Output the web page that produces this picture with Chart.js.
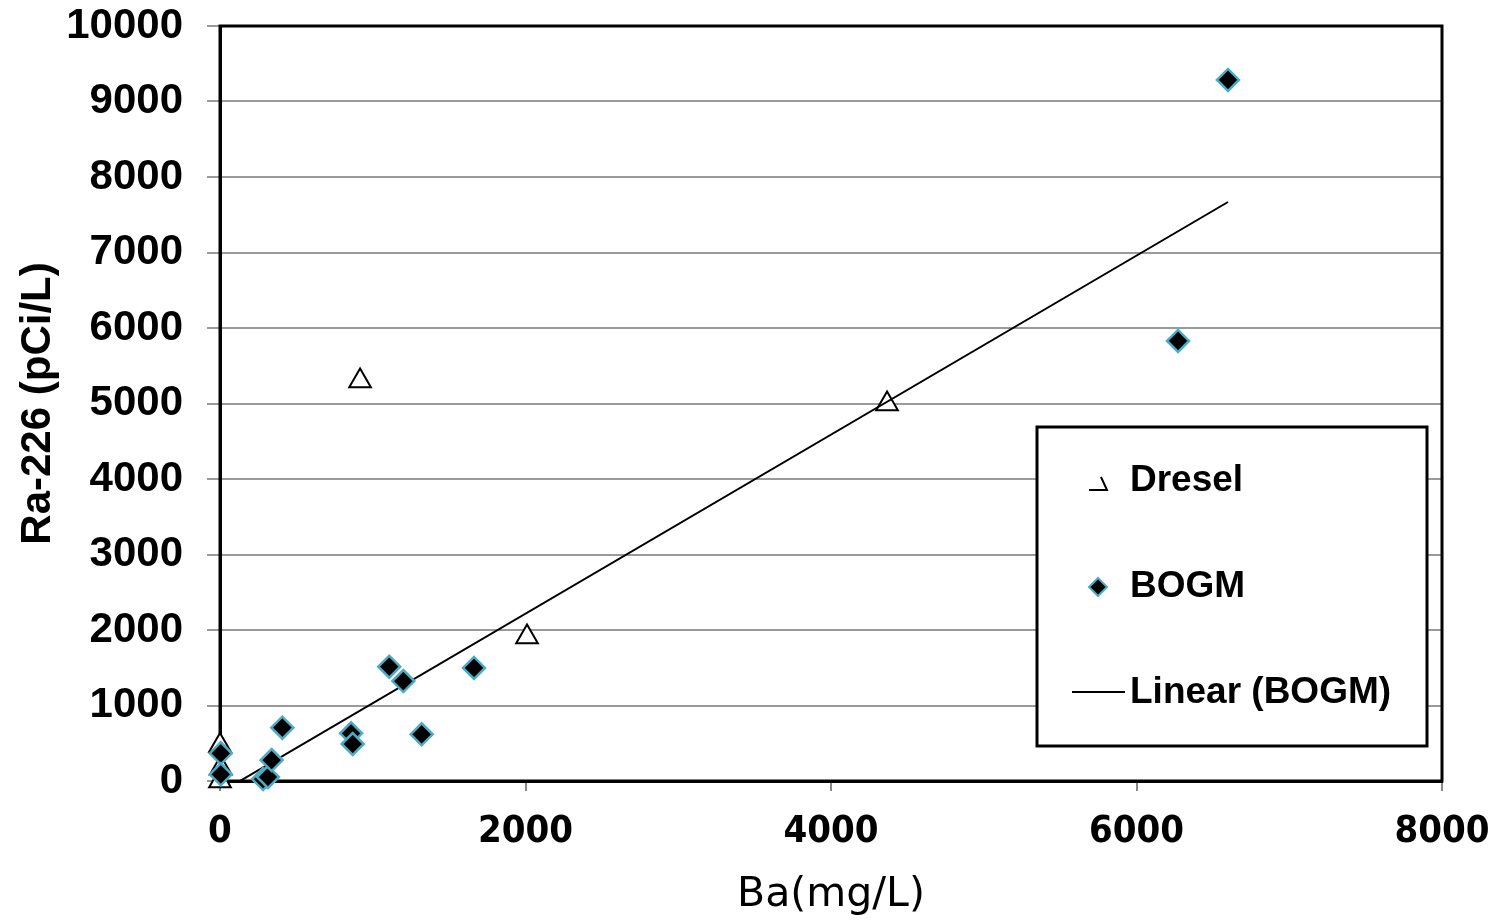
<!DOCTYPE html>
<html>
<head>
<meta charset="utf-8">
<script src="https://cdn.jsdelivr.net/npm/chart.js@4"></script>
<style>
  html, body { margin: 0; padding: 0; background: #fff; }
  #wrap { position: relative; width: 1501px; height: 920px; }
</style>
</head>
<body>
<div id="wrap"><canvas id="scatter"></canvas></div>
<script>
// values
const dreselBa = [0, 5, 0, 917, 2010, 4367];
const dreselRa = [470, 170, 0, 5298, 1907, 4993];

const bogmBa = [5, 5, 282, 314, 338, 408, 858, 869, 1108, 1200, 1320, 1663, 6272, 6599];
const bogmRa = [367, 89, 26, 53, 278, 706, 632, 490, 1514, 1324, 618, 1497, 5828, 9285];

// trendline ends (Excel linear fit over BOGM x range)
const trendBa = [5, 6599];
const trendRa = [-149, 7669];

const xTicks = [0, 2000, 4000, 6000, 8000];
const yTicks = [0, 1000, 2000, 3000, 4000, 5000, 6000, 7000, 8000, 9000, 10000];

const toPts = (xs, ys) => xs.map((x, i) => ({ x: x, y: ys[i] }));

// plot frame + boxed legend like the excel sheet
const frameLegend = {
  id: 'frameLegend',
  beforeDatasetsDraw(chart) {
    const a = chart.chartArea, ctx = chart.ctx;
    ctx.save();
    ctx.strokeStyle = '#000';
    ctx.lineWidth = 3;
    ctx.strokeRect(a.left, a.top, a.right - a.left, a.bottom - a.top);
    ctx.restore();
  },
  afterDraw(chart) {
    const ctx = chart.ctx;
    const ds = chart.data.datasets;
    ctx.save();
    ctx.fillStyle = '#fff';
    ctx.fillRect(1037, 427, 390, 319);
    ctx.strokeStyle = '#000';
    ctx.lineWidth = 3;
    ctx.strokeRect(1037, 427, 390, 319);

    ctx.font = 'bold 37px "Liberation Sans", Arial, sans-serif';
    ctx.fillStyle = '#000';
    ctx.textBaseline = 'middle';
    ctx.textAlign = 'left';

    // Dresel (the odd clipped triangle glyph)
    ctx.lineWidth = 2;
    ctx.beginPath();
    ctx.moveTo(1101, 477);
    ctx.lineTo(1107, 490);
    ctx.lineTo(1089, 490);
    ctx.stroke();
    ctx.fillText(ds[0].label, 1130, 481);

    // BOGM
    ctx.beginPath();
    ctx.moveTo(1098, 578);
    ctx.lineTo(1107, 587);
    ctx.lineTo(1098, 596);
    ctx.lineTo(1089, 587);
    ctx.closePath();
    ctx.fillStyle = '#000';
    ctx.fill();
    ctx.strokeStyle = '#4bacc6';
    ctx.lineWidth = 2;
    ctx.stroke();
    ctx.fillStyle = '#000';
    ctx.fillText(ds[1].label, 1130, 587);

    // trendline
    ctx.strokeStyle = '#000';
    ctx.lineWidth = 2;
    ctx.beginPath();
    ctx.moveTo(1072, 692);
    ctx.lineTo(1125, 692);
    ctx.stroke();
    ctx.fillText(ds[2].label, 1130, 693);
    ctx.restore();
  }
};

const scatterConfig = {
  type: 'scatter',
  data: {
    datasets: [
      {
        label: 'Dresel',
        data: toPts(dreselBa, dreselRa),
        pointStyle: 'triangle',
        pointRadius: 12.5,
        pointHoverRadius: 12.5,
        pointBackgroundColor: '#fff',
        pointBorderColor: '#000',
        pointBorderWidth: 2,
        clip: false,
        order: 2,
      },
      {
        label: 'BOGM',
        data: toPts(bogmBa, bogmRa),
        pointStyle: 'rectRot',
        pointRadius: 11,
        pointHoverRadius: 11,
        pointBackgroundColor: '#000',
        pointBorderColor: '#4bacc6',
        pointBorderWidth: 2.5,
        clip: false,
        order: 0,
      },
      {
        label: 'Linear (BOGM)',
        type: 'line',
        data: toPts(trendBa, trendRa),
        borderColor: '#000',
        borderWidth: 2,
        pointRadius: 0,
        fill: false,
        clip: 0,
        order: 1,
      },
    ],
  },
  options: {
    responsive: true,
    maintainAspectRatio: false,
    animation: false,
    layout: { padding: { top: 26, right: 59, left: 0, bottom: 0 } },
    plugins: {
      legend: { display: false },
      tooltip: { enabled: false },
    },
    scales: {
      x: {
        type: 'linear',
        min: 0,
        max: 8000,
        afterBuildTicks: (s) => { s.ticks = xTicks.map(v => ({ value: v })); },
        afterFit: (s) => { s.height = 139; s.paddingLeft = 0; s.paddingRight = 0; },
        ticks: {
          color: '#000',
          padding: 18,
          callback: (v) => String(v),
          font: { family: '"DejaVu Sans Condensed", "DejaVu Sans", sans-serif', size: 38, weight: 'bold' },
        },
        grid: { drawOnChartArea: false, color: '#888', lineWidth: 2, tickLength: 10 },
        border: { color: '#000', width: 3 },
        title: {
          display: true,
          text: 'Ba(mg/L)',
          color: '#000',
          padding: { top: 0, bottom: 0 },
          font: { family: '"DejaVu Sans", sans-serif', size: 41 },
        },
      },
      y: {
        min: 0,
        max: 10000,
        afterBuildTicks: (s) => { s.ticks = yTicks.map(v => ({ value: v })); },
        afterFit: (s) => { s.width = 220; s.paddingTop = 0; s.paddingBottom = 0; },
        ticks: {
          color: '#000',
          padding: 24,
          callback: (v) => String(v),
          font: { family: '"Liberation Sans", Arial, sans-serif', size: 42, weight: 'bold' },
        },
        grid: { color: '#9a9a9a', lineWidth: 2, tickLength: 13 },
        border: { color: '#000', width: 3 },
        title: {
          display: true,
          text: 'Ra-226 (pCi/L)',
          color: '#000',
          padding: { top: 13, bottom: 0 },
          font: { family: '"Liberation Sans", Arial, sans-serif', size: 42, weight: 'bold' },
        },
      },
    },
  },
  plugins: [frameLegend],
};

const scatterCtx = document.getElementById('scatter');
window.myScatter = new Chart(scatterCtx, scatterConfig);
</script>
</body>
</html>
